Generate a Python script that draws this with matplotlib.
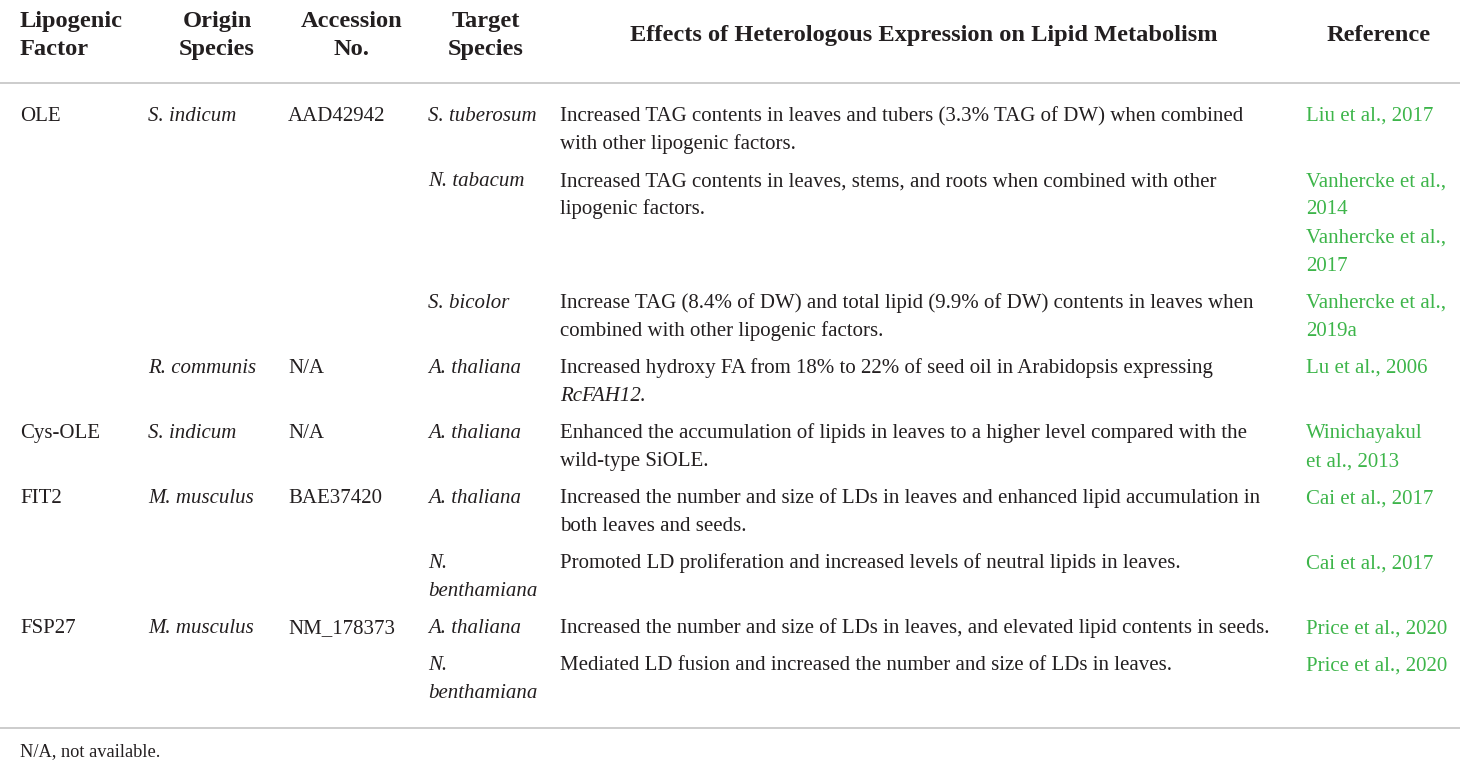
import matplotlib
matplotlib.use("Agg")
import matplotlib.pyplot as plt
from matplotlib.lines import Line2D

plt.rcParams['font.family'] = ['Liberation Serif', 'DejaVu Serif']

# --- table content ---
headers = [["Lipogenic", "Factor"], ["Origin", "Species"], ["Accession", "No."],
           ["Target", "Species"], ["Effects of Heterologous Expression on Lipid Metabolism"],
           ["Reference"]]

factors = ["OLE", "", "", "", "Cys-OLE", "FIT2", "", "FSP27", ""]
origins = ["S. indicum", "", "", "R. communis", "S. indicum", "M. musculus", "",
           "M. musculus", ""]
accessions = ["AAD42942", "", "", "N/A", "N/A", "BAE37420", "", "NM_178373", ""]
targets = [["S. tuberosum"], ["N. tabacum"], ["S. bicolor"], ["A. thaliana"],
           ["A. thaliana"], ["A. thaliana"], ["N.", "benthamiana"], ["A. thaliana"],
           ["N.", "benthamiana"]]
# lines wrapped in *...* are set in italic (gene name)
effects = [
    ["Increased TAG contents in leaves and tubers (3.3% TAG of DW) when combined",
     "with other lipogenic factors."],
    ["Increased TAG contents in leaves, stems, and roots when combined with other",
     "lipogenic factors."],
    ["Increase TAG (8.4% of DW) and total lipid (9.9% of DW) contents in leaves when",
     "combined with other lipogenic factors."],
    ["Increased hydroxy FA from 18% to 22% of seed oil in Arabidopsis expressing",
     "*RcFAH12*."],
    ["Enhanced the accumulation of lipids in leaves to a higher level compared with the",
     "wild-type SiOLE."],
    ["Increased the number and size of LDs in leaves and enhanced lipid accumulation in",
     "both leaves and seeds."],
    ["Promoted LD proliferation and increased levels of neutral lipids in leaves."],
    ["Increased the number and size of LDs in leaves, and elevated lipid contents in seeds."],
    ["Mediated LD fusion and increased the number and size of LDs in leaves."],
]
references = [
    ["Liu et al., 2017"],
    ["Vanhercke et al.,", "2014", "Vanhercke et al.,", "2017"],
    ["Vanhercke et al.,", "2019a"],
    ["Lu et al., 2006"],
    ["Winichayakul", "et al., 2013"],
    ["Cai et al., 2017"],
    ["Cai et al., 2017"],
    ["Price et al., 2020"],
    ["Price et al., 2020"],
]
footnote = "N/A, not available."

# --- layout (pixels) ---
W, H = 1460, 766
TEXT = "#231f20"
GREEN = "#3db54a"
RULE = "#c8c8c8"
col_left = [20, 148, 288, 428, 560, 1306]
head_center = [None, 217, 352, 486, 924, 1379]
line_h = 28.3
row_gap = 8.5
body_fs = 15
head_fs = 17.6

fig = plt.figure(figsize=(W / 100, H / 100), dpi=100)
fig.patch.set_facecolor("white")
renderer = fig.canvas.get_renderer()


def fx(x):
    return x / W


def fy(y):
    return 1 - y / H


def put(x, y, s, **kw):
    return fig.text(fx(x), fy(y), s, va="baseline", **kw)


def put_effect(x, y, s):
    if s.startswith("*"):
        word, rest = s[1:].split("*", 1)
        t = put(x, y, word, fontsize=body_fs, color=TEXT, style="italic")
        bb = t.get_window_extent(renderer)
        put(bb.x1 - 1.5, y, rest, fontsize=body_fs, color=TEXT)
    else:
        put(x, y, s, fontsize=body_fs, color=TEXT)


# header
for i, lines in enumerate(headers):
    if len(lines) == 2:
        ys = [27, 55]
    else:
        ys = [41]
    for s, y in zip(lines, ys):
        if i == 0:
            put(col_left[0], y, s, ha="left", fontsize=head_fs, fontweight="bold", color=TEXT)
        else:
            put(head_center[i], y, s, ha="center", fontsize=head_fs, fontweight="bold",
                color=TEXT)

fig.add_artist(Line2D([0, 1], [fy(82.5), fy(82.5)], color=RULE, lw=1.3))

# body rows
y = 121
for k in range(len(factors)):
    put(col_left[0], y, factors[k], fontsize=body_fs, color=TEXT)
    put(col_left[1], y, origins[k], fontsize=body_fs, color=TEXT, style="italic")
    put(col_left[2], y, accessions[k], fontsize=body_fs, color=TEXT)
    for j, s in enumerate(targets[k]):
        put(col_left[3], y + j * line_h, s, fontsize=body_fs, color=TEXT, style="italic")
    for j, s in enumerate(effects[k]):
        put_effect(col_left[4], y + j * line_h, s)
    for j, s in enumerate(references[k]):
        put(col_left[5], y + j * line_h, s, fontsize=body_fs, color=GREEN)
    n = max(len(targets[k]), len(effects[k]), len(references[k]))
    y += n * line_h + row_gap

fig.add_artist(Line2D([0, 1], [fy(728), fy(728)], color=RULE, lw=1.3))
put(col_left[0], 756, footnote, fontsize=body_fs - 1.8, color=TEXT)

fig.savefig("out.png", dpi=100, facecolor="white")
